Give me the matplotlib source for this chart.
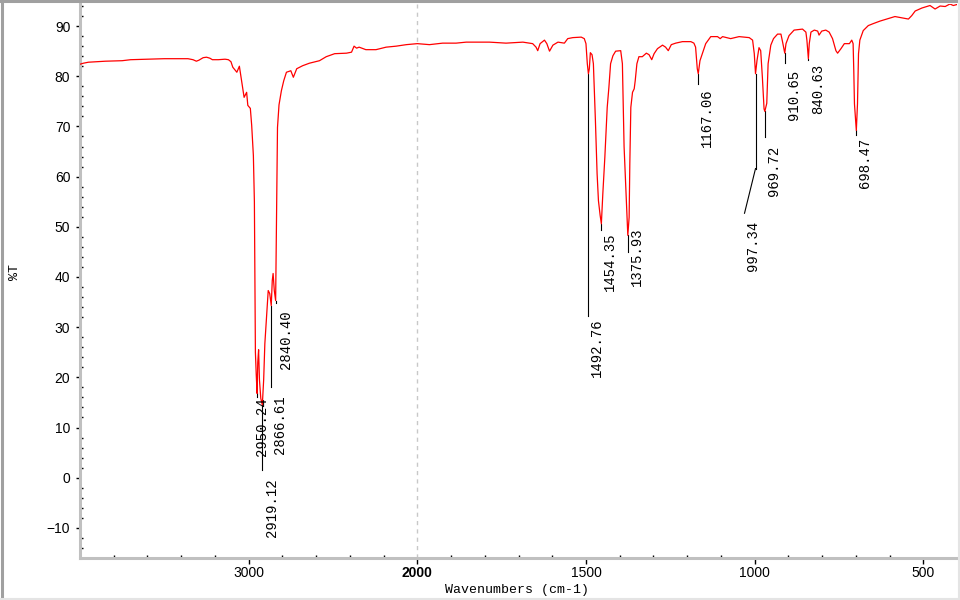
import numpy as np
import matplotlib
matplotlib.use("Agg")
import matplotlib.pyplot as plt
import matplotlib.transforms as mtransforms
from matplotlib.lines import Line2D

# ---------------- data ----------------
wavenumber = [
    4000, 3980, 3950, 3900, 3850, 3750, 3700, 3600, 3500, 3400, 3360, 3330, 3310,
    3295, 3270, 3250, 3230, 3215, 3180, 3140, 3120, 3105,
    3094, 3070, 3055, 3039, 3027, 3012, 3005, 2990, 2982, 2972, 2966, 2960, 2955,
    2950, 2946, 2941, 2936, 2928, 2919, 2911, 2904, 2893, 2884, 2875, 2866, 2860,
    2855, 2848, 2840, 2834, 2829, 2820, 2806, 2792, 2776, 2750, 2735, 2715, 2680,
    2640, 2580, 2540, 2490, 2420, 2390, 2375, 2360, 2345, 2305, 2245, 2185, 2125,
    2065, 2000, 1964, 1925, 1885, 1855, 1786, 1737, 1687, 1658, 1648, 1643, 1636,
    1623, 1616, 1608, 1598, 1583, 1564, 1554, 1539, 1514, 1505, 1500, 1496, 1492.76,
    1490, 1487, 1482, 1478, 1472, 1467, 1463, 1458, 1454.35, 1450, 1444, 1437, 1432,
    1427, 1420, 1412, 1397, 1392, 1387, 1382, 1379, 1375.93, 1372, 1370, 1367, 1362,
    1357, 1354, 1349, 1343, 1333, 1321, 1313, 1305, 1298, 1288, 1273, 1264, 1256,
    1247, 1234, 1214, 1189, 1180, 1175, 1170, 1167.06, 1162, 1155, 1145, 1130, 1110,
    1102, 1095, 1071, 1046, 1031, 1016, 1006, 1001, 997.34, 993, 987, 982, 977, 972,
    969.72, 964, 960, 952, 944, 932, 922, 917, 910.65, 907, 898, 883, 858, 848, 845,
    840.63, 838, 833, 823, 813, 809, 801, 789, 779, 769, 759, 754, 744, 734, 719,
    712, 708, 706, 704, 698.47, 695, 692, 688, 678, 663, 648, 628, 608, 584, 559,
    544, 534, 524, 504, 480, 465, 450, 435, 421, 411, 400,
]
transmittance = [
    82.4, 82.6, 82.8, 82.9, 83.0, 83.1, 83.3, 83.4, 83.5, 83.5, 83.5, 83.3, 83.0,
    83.2, 83.7, 83.8, 83.6, 83.3, 83.3, 83.4, 83.3, 82.9,
    81.8, 80.8, 82.0, 78.5, 75.8, 76.8, 74.2, 73.6, 70.2, 64.2, 55.0, 25.0, 20.5,
    16.8, 23.0, 25.5, 19.5, 15.8, 14.5, 19.5, 26.7, 32.7, 37.3, 36.7, 34.3, 39.3,
    40.7, 37.3, 35.3, 53.3, 69.8, 74.3, 77.1, 79.1, 80.8, 81.1, 79.8, 81.5, 82.1,
    82.6, 83.1, 83.9, 84.5, 84.6, 84.8, 86.0, 85.6, 85.8, 85.3, 85.3, 85.8, 86.0,
    86.3, 86.5, 86.3, 86.6, 86.6, 86.8, 86.8, 86.6, 86.8, 86.5, 85.8, 85.1, 86.5,
    87.2, 86.5, 85.0, 86.2, 86.8, 86.6, 87.5, 87.7, 87.8, 87.5, 86.5, 82.5, 80.5,
    81.5, 84.7, 84.3, 82.5, 71.2, 60.6, 55.2, 52.3, 50.6, 56.6, 63.9, 73.8, 77.8,
    82.5, 84.1, 85.0, 85.1, 82.5, 66.0, 57.9, 53.2, 48.3, 51.9, 62.5, 73.8, 76.8,
    77.5, 79.1, 82.5, 83.9, 83.9, 84.6, 84.3, 83.3, 84.5, 85.5, 86.2, 85.8, 85.1,
    86.3, 86.6, 86.9, 86.9, 86.6, 85.8, 81.5, 80.5, 83.1, 84.5, 86.5, 87.9, 87.9,
    87.5, 87.9, 87.5, 87.9, 87.8, 87.7, 87.2, 84.5, 80.5, 83.1, 85.7, 85.1, 79.8, 73.5,
    73.0, 74.6, 82.5, 86.2, 87.5, 88.4, 88.4, 86.8, 84.6, 86.5, 88.1, 89.2, 89.4, 88.8, 87.2,
    83.5, 86.5, 88.8, 89.2, 89.0, 88.2, 89.0, 89.2, 88.8, 87.5, 85.1, 84.6, 85.5, 86.5, 86.5,
    87.2, 86.5, 81.1, 74.5, 69.2, 74.5, 84.5, 87.2, 89.1, 90.1, 90.5, 91.0, 91.4, 91.9, 91.6,
    91.4, 92.1, 93.0, 93.6, 94.1, 93.4, 94.0, 93.9, 94.4, 94.1, 94.3,
]

peak_positions = [2950.24, 2919.12, 2866.61, 2840.40, 1492.76, 1454.35, 1375.93,
                  1167.06, 997.34, 969.72, 910.65, 840.63, 698.47]
peak_values = [16.8, 14.5, 34.3, 35.3, 80.5, 50.6, 48.3, 80.5, 80.5, 73.0, 84.6, 83.5, 69.2]
peak_texts = ["2950.24", "2919.12", "2866.61", "2840.40", "1492.76", "1454.35", "1375.93",
              "1167.06", "997.34", "969.72", "910.65", "840.63", "698.47"]

xticks_major = [3000, 2000, 1500, 1000, 500]

# ---------------- layout (label placement) ----------------
# (line end y, text top y, text x offset in px)
label_layout = [
    (16.0, 16.0, 5), (1.5, -0.1, 10), (18.0, 16.4, 9), (34.8, 33.3, 10),
    (32.3, 31.7, 9), (49.3, 48.9, 9), (44.9, 49.9, 9), (78.5, 77.6, 9),
    (61.6, 51.3, -3), (67.8, 66.2, 9), (82.6, 81.2, 9), (83.3, 82.5, 10),
    (68.2, 67.8, 9),
]

plt.rcParams['font.family'] = ['Liberation Sans', 'DejaVu Sans']

def fwd(w):
    w = np.asarray(w, dtype=float)
    return np.where(w > 2000, 2000 + (w - 2000) / 2.0, w)

def inv(u):
    u = np.asarray(u, dtype=float)
    return np.where(u > 2000, 2000 + (u - 2000) * 2.0, u)

fig = plt.figure(figsize=(9.6, 6), dpi=100)
ax = fig.add_axes([80 / 960, 1 - 558 / 600, (957 - 80) / 960, (558 - 4) / 600])
ax.set_xscale('function', functions=(fwd, inv))
ax.set_xlim(4000, 400)
ax.set_ylim(-16, 94.4)

ax.axvline(2000, color='#c8c8c8', lw=1, ls=(0, (3, 3)), zorder=1)
ax.plot(wavenumber, transmittance, color='#ff0000', lw=0.9, zorder=3)

# spines
for s in ['top', 'right']:
    ax.spines[s].set_visible(False)
for s in ['left', 'bottom']:
    ax.spines[s].set_color('#c0c0c0')
    ax.spines[s].set_linewidth(2.2)

ax.set_xticks(xticks_major)
ax.set_xticklabels([str(t) for t in xticks_major])
minor_x = list(range(3800, 2000, -200)) + [t for t in range(1900, 400, -100) if t not in xticks_major]
ax.set_xticks(minor_x, minor=True)
ax.set_yticks(np.arange(-10, 91, 10))
ax.set_yticks(np.arange(-16, 95, 2), minor=True)

ax.tick_params(axis='both', which='major', color='black', width=1, labelsize=10)
ax.tick_params(axis='x', which='major', direction='out', length=4, pad=1.5)
ax.tick_params(axis='y', which='major', direction='out', length=3, pad=4)
ax.tick_params(axis='both', which='minor', direction='in', length=2.5, width=1, color='black')

for lbl in ax.get_xticklabels():
    if lbl.get_text() == '2000':
        lbl.set_fontweight('bold')

# peak annotations
mono = ['Liberation Mono', 'DejaVu Sans Mono']
for (px, pv, txt, (lend, ttop, dx)) in zip(peak_positions, peak_values, peak_texts, label_layout):
    ax.plot([px, px], [pv, lend], color='black', lw=0.8, zorder=2)
    if txt == "997.34":
        # slanted leader
        disp = ax.transData.transform([(px, lend)])[0]
        end = ax.transData.inverted().transform([(disp[0] - 11, 0)])[0]
        ax.plot([px, end[0]], [lend, 52.7], color='black', lw=0.8, zorder=2)
    tr = mtransforms.offset_copy(ax.transData, fig=fig, x=dx, y=0, units='dots')
    ax.text(px, ttop, txt, transform=tr, rotation=90, ha='center', va='top',
            fontsize=10, family=mono, color='black', zorder=4)

fig.text(517 / 960, 1 - 590 / 600, 'Wavenumbers (cm-1)', ha='center', va='center',
         fontsize=9.5, family=mono)
fig.text(15 / 960, 1 - 272 / 600, '%T', ha='center', va='center', rotation=90,
         fontsize=9.5, family=mono)

# figure border
fig.add_artist(Line2D([0.002, 0.002], [0, 1], transform=fig.transFigure, color='#a0a0a0', lw=2.2))
fig.add_artist(Line2D([0, 1], [0.998, 0.998], transform=fig.transFigure, color='#a0a0a0', lw=2.2))
fig.add_artist(Line2D([0, 1], [0.002, 0.002], transform=fig.transFigure, color='#e4e4e4', lw=1.5))
fig.add_artist(Line2D([0.999, 0.999], [0, 1], transform=fig.transFigure, color='#e4e4e4', lw=1.5))

fig.savefig('out.png', dpi=100)
